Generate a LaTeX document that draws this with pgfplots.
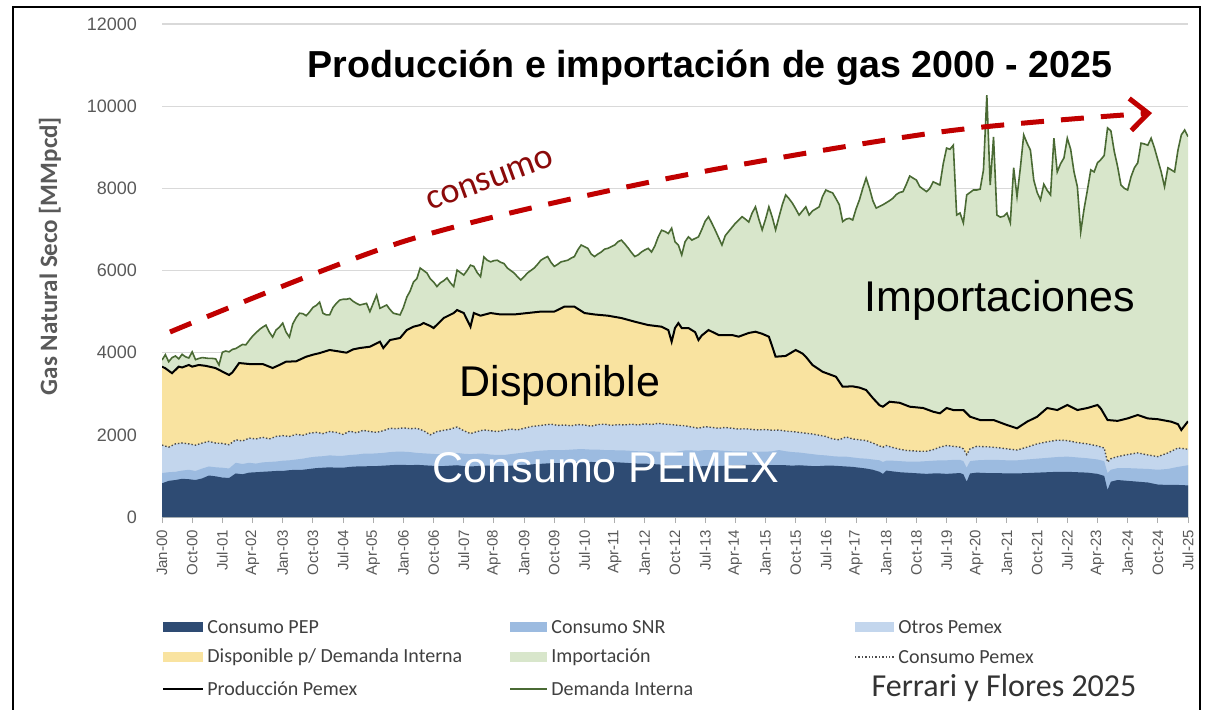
\documentclass[border=0pt]{standalone}
\usepackage{fontspec}
\setmainfont{Liberation Sans}
\newfontfamily\calfont{Carlito}
\usepackage{pgfplots}
\usepackage{pgfplotstable}
\pgfplotsset{compat=1.18}
\usetikzlibrary{arrows.meta}

\definecolor{cPEP}{HTML}{2E4B73}
\definecolor{cSNR}{HTML}{9CBBE0}
\definecolor{cOtr}{HTML}{C3D6ED}
\definecolor{cDisp}{HTML}{F9E3A0}
\definecolor{cImp}{HTML}{D8E6CB}
\definecolor{cDem}{HTML}{4A6A34}
\definecolor{cRed}{HTML}{C00000}
\definecolor{cTxtRed}{HTML}{8B0A0A}
\definecolor{tickgray}{HTML}{595959}
\definecolor{gridgray}{HTML}{D9D9D9}
\definecolor{leggray}{HTML}{404040}

% month index: 0 = Jan-00 ... 306 = Jul-25
\pgfplotstableread[row sep=\\]{
m d\\ 0 3820\\ 1 3950\\ 2 3780\\ 3 3880\\ 4 3920\\ 5 3850\\ 6 3960\\ 7 3900\\ 8 3870\\ 9 4020\\
10 3830\\ 11 3860\\ 12 3880\\ 13 3870\\ 14 3860\\ 15 3860\\ 16 3850\\ 17 3700\\ 18 4010\\ 19 4040\\
20 4020\\ 21 4080\\ 22 4100\\ 23 4150\\ 24 4200\\ 25 4190\\ 26 4300\\ 27 4400\\ 28 4480\\ 29 4560\\
30 4620\\ 31 4670\\ 32 4500\\ 33 4380\\ 34 4550\\ 35 4620\\ 36 4720\\ 37 4500\\ 38 4380\\ 39 4700\\
40 4850\\ 41 4960\\ 42 4950\\ 43 4900\\ 44 4990\\ 45 5100\\ 46 5150\\ 47 5230\\ 48 4960\\ 49 4920\\
50 4920\\ 51 5100\\ 52 5200\\ 53 5280\\ 54 5300\\ 55 5300\\ 56 5320\\ 57 5250\\ 58 5200\\ 59 5160\\
60 5180\\ 61 5200\\ 62 5000\\ 63 5200\\ 64 5400\\ 65 5080\\ 66 5120\\ 67 5160\\ 68 5050\\ 69 4960\\
70 4940\\ 71 4920\\ 72 5100\\ 73 5350\\ 74 5500\\ 75 5720\\ 76 5800\\ 77 6060\\ 78 6000\\ 79 5940\\
80 5800\\ 81 5720\\ 82 5610\\ 83 5700\\ 84 5750\\ 85 5820\\ 86 5700\\ 87 5610\\ 88 6010\\ 89 5950\\
90 5890\\ 91 6000\\ 92 6130\\ 93 6100\\ 94 5950\\ 95 5850\\ 96 6330\\ 97 6250\\ 98 6210\\ 99 6240\\
100 6250\\ 101 6200\\ 102 6170\\ 103 6060\\ 104 6000\\ 105 5940\\ 106 5850\\ 107 5770\\ 108 5850\\ 109 5940\\
110 6000\\ 111 6060\\ 112 6150\\ 113 6250\\ 114 6300\\ 115 6340\\ 116 6200\\ 117 6100\\ 118 6150\\ 119 6210\\
120 6230\\ 121 6250\\ 122 6300\\ 123 6340\\ 124 6500\\ 125 6620\\ 126 6580\\ 127 6540\\ 128 6400\\ 129 6340\\
130 6400\\ 131 6450\\ 132 6520\\ 133 6540\\ 134 6580\\ 135 6620\\ 136 6700\\ 137 6740\\ 138 6650\\ 139 6550\\
140 6440\\ 141 6340\\ 142 6380\\ 143 6450\\ 144 6500\\ 145 6540\\ 146 6450\\ 147 6600\\ 148 6820\\ 149 6980\\
150 6950\\ 151 6900\\ 152 7030\\ 153 6700\\ 154 6620\\ 155 6380\\ 156 6700\\ 157 6820\\ 158 6740\\ 159 6780\\
160 6820\\ 161 7000\\ 162 7200\\ 163 7310\\ 164 7150\\ 165 6980\\ 166 6800\\ 167 6620\\ 168 6850\\ 169 6950\\
170 7050\\ 171 7150\\ 172 7230\\ 173 7310\\ 174 7250\\ 175 7180\\ 176 7400\\ 177 7550\\ 178 7250\\ 179 6990\\
180 7250\\ 181 7550\\ 182 7300\\ 183 6990\\ 184 7300\\ 185 7600\\ 186 7840\\ 187 7750\\ 188 7640\\ 189 7500\\
190 7350\\ 191 7450\\ 192 7550\\ 193 7350\\ 194 7450\\ 195 7500\\ 196 7550\\ 197 7800\\ 198 7960\\ 199 7920\\
200 7890\\ 201 7750\\ 202 7600\\ 203 7190\\ 204 7250\\ 205 7270\\ 206 7230\\ 207 7500\\ 208 7720\\ 209 8000\\
210 8250\\ 211 8000\\ 212 7700\\ 213 7520\\ 214 7560\\ 215 7600\\ 216 7650\\ 217 7700\\ 218 7760\\ 219 7850\\
220 7900\\ 221 7920\\ 222 8100\\ 223 8300\\ 224 8250\\ 225 8200\\ 226 8040\\ 227 7980\\ 228 7920\\ 229 8000\\
230 8160\\ 231 8120\\ 232 8080\\ 233 8600\\ 234 8980\\ 235 8950\\ 236 9050\\ 237 7350\\ 238 7400\\ 239 7160\\
240 7840\\ 241 7900\\ 242 7960\\ 243 7960\\ 244 7980\\ 245 8450\\ 246 10270\\ 247 8080\\ 248 9250\\ 249 7350\\
250 7300\\ 251 7320\\ 252 7400\\ 253 7160\\ 254 8500\\ 255 7800\\ 256 8500\\ 257 9300\\ 258 9100\\ 259 8930\\
260 8200\\ 261 7900\\ 262 7720\\ 263 8100\\ 264 7950\\ 265 7840\\ 266 9220\\ 267 8400\\ 268 8600\\ 269 8740\\
270 9220\\ 271 8950\\ 272 8400\\ 273 8040\\ 274 6940\\ 275 7500\\ 276 7960\\ 277 8450\\ 278 8400\\ 279 8620\\
280 8700\\ 281 8800\\ 282 9470\\ 283 9400\\ 284 8900\\ 285 8530\\ 286 8080\\ 287 8000\\ 288 7960\\ 289 8280\\
290 8500\\ 291 8620\\ 292 9100\\ 293 9080\\ 294 9050\\ 295 9220\\ 296 8980\\ 297 8690\\ 298 8400\\ 299 8040\\
300 8500\\ 301 8450\\ 302 8400\\ 303 8930\\ 304 9300\\ 305 9420\\ 306 9260\\
}\tabDem

\pgfplotstableread[row sep=\\]{
m p\\ 0 3660\\ 1 3620\\ 3 3500\\ 5 3660\\ 6 3640\\ 8 3700\\ 9 3660\\ 11 3700\\ 13 3680\\ 16 3625\\
18 3540\\ 20 3456\\ 21 3520\\ 23 3748\\ 26 3724\\ 30 3724\\ 33 3627\\ 35 3700\\ 37 3780\\ 40 3790\\
43 3902\\ 45 3950\\ 47 3990\\ 50 4065\\ 52 4040\\ 55 4000\\ 57 4080\\ 59 4113\\ 62 4145\\ 65 4267\\
66 4113\\ 68 4308\\ 71 4357\\ 73 4551\\ 75 4632\\ 77 4673\\ 78 4722\\ 80 4650\\ 81 4600\\ 83 4760\\
84 4843\\ 87 4965\\ 88 5038\\ 90 4965\\ 91 4800\\ 92 4632\\ 93 4965\\ 95 4900\\ 98 4965\\ 101 4930\\
105 4930\\ 109 4965\\ 113 5000\\ 117 5000\\ 120 5120\\ 123 5120\\ 126 4965\\ 129 4930\\ 133 4900\\ 137 4843\\
141 4754\\ 145 4673\\ 149 4632\\ 151 4551\\ 152 4267\\ 153 4600\\ 154 4720\\ 155 4600\\ 157 4600\\ 159 4500\\
160 4308\\ 161 4420\\ 163 4551\\ 166 4430\\ 170 4430\\ 172 4390\\ 175 4480\\ 177 4510\\ 179 4460\\ 181 4389\\
182 4150\\ 183 3902\\ 186 3920\\ 189 4065\\ 191 3980\\ 192 3902\\ 194 3700\\ 197 3536\\ 201 3415\\ 203 3172\\
206 3180\\ 208 3150\\ 210 3091\\ 212 2896\\ 214 2720\\ 215 2685\\ 217 2806\\ 220 2780\\ 223 2685\\ 227 2653\\
230 2563\\ 232 2524\\ 234 2653\\ 236 2604\\ 239 2604\\ 241 2441\\ 244 2361\\ 248 2361\\ 252 2239\\ 255 2159\\
258 2320\\ 261 2441\\ 264 2653\\ 267 2604\\ 270 2726\\ 273 2604\\ 276 2653\\ 279 2726\\ 280 2640\\ 281 2500\\
282 2361\\ 285 2340\\ 288 2400\\ 291 2483\\ 294 2400\\ 297 2380\\ 301 2320\\ 303 2260\\ 304 2118\\ 306 2330\\
}\tabProd

% cumulative tops: e = Consumo PEP, s = + Consumo SNR, o = + Otros Pemex (= Consumo Pemex)
\pgfplotstableread[row sep=\\]{
m e s o\\
0 820 1070 1750\\ 2 880 1090 1700\\ 4 900 1100 1780\\ 6 930 1130 1800\\ 8 920 1150 1780\\
10 900 1120 1750\\ 12 940 1180 1800\\ 14 1010 1230 1840\\ 16 990 1210 1800\\ 18 960 1200 1790\\
20 950 1180 1760\\ 22 1060 1320 1880\\ 24 1040 1290 1850\\ 26 1080 1320 1920\\ 28 1090 1300 1900\\
30 1100 1330 1940\\ 32 1110 1340 1900\\ 34 1120 1350 1960\\ 36 1120 1370 1980\\ 38 1140 1380 1960\\
40 1150 1400 2010\\ 42 1150 1420 1990\\ 44 1170 1450 2040\\ 46 1190 1470 2060\\ 48 1200 1480 2030\\
50 1210 1500 2080\\ 52 1200 1490 2060\\ 54 1200 1490 2010\\ 56 1220 1510 2090\\ 58 1230 1520 2050\\
60 1230 1540 2110\\ 62 1240 1540 2080\\ 64 1240 1550 2060\\ 66 1250 1560 2100\\ 68 1260 1580 2160\\
70 1270 1590 2150\\ 72 1270 1590 2170\\ 74 1260 1580 2150\\ 76 1270 1560 2160\\ 78 1260 1550 2100\\
80 1250 1540 2000\\ 82 1240 1530 2080\\ 84 1240 1530 2110\\ 86 1250 1540 2140\\ 88 1260 1560 2190\\
90 1240 1540 2100\\ 92 1230 1530 2030\\ 94 1240 1540 2080\\ 96 1250 1540 2120\\ 98 1250 1520 2100\\
100 1240 1510 2080\\ 102 1240 1510 2110\\ 104 1250 1530 2140\\ 106 1260 1550 2120\\ 108 1270 1570 2160\\
110 1280 1590 2200\\ 112 1290 1610 2220\\ 114 1300 1620 2240\\ 116 1310 1630 2260\\ 118 1310 1630 2230\\
120 1310 1630 2240\\ 122 1320 1640 2220\\ 124 1330 1650 2250\\ 126 1330 1650 2240\\ 128 1340 1640 2210\\
130 1330 1640 2250\\ 132 1340 1630 2260\\ 134 1340 1630 2230\\ 136 1330 1620 2250\\ 138 1320 1620 2240\\
140 1310 1610 2260\\ 142 1300 1600 2240\\ 144 1300 1600 2270\\ 146 1290 1600 2250\\ 148 1280 1590 2280\\
150 1270 1580 2260\\ 152 1250 1570 2250\\ 154 1240 1600 2230\\ 156 1240 1620 2220\\ 158 1240 1620 2190\\
160 1230 1610 2160\\ 162 1240 1630 2200\\ 164 1250 1630 2180\\ 166 1240 1620 2160\\ 168 1250 1610 2180\\
170 1260 1600 2160\\ 172 1260 1600 2140\\ 174 1270 1600 2150\\ 176 1270 1590 2130\\ 178 1260 1590 2120\\
180 1260 1590 2130\\ 182 1260 1600 2110\\ 184 1265 1630 2118\\ 186 1260 1600 2090\\ 188 1250 1580 2080\\
190 1260 1570 2060\\ 192 1250 1550 2040\\ 194 1240 1530 2020\\ 196 1240 1510 1990\\ 198 1250 1500 1960\\
200 1250 1480 1900\\ 202 1240 1470 1880\\ 204 1230 1470 1950\\ 206 1220 1450 1900\\ 208 1200 1430 1880\\
210 1180 1420 1860\\ 212 1150 1400 1800\\ 214 1100 1380 1730\\ 215 1050 1340 1700\\ 216 1130 1370 1740\\
218 1110 1370 1690\\ 220 1090 1360 1650\\ 222 1080 1350 1620\\ 224 1070 1350 1610\\ 226 1060 1350 1600\\
228 1050 1360 1600\\ 230 1060 1370 1640\\ 232 1060 1380 1700\\ 234 1050 1380 1740\\ 236 1060 1390 1720\\
238 1070 1390 1700\\ 239 1040 1360 1660\\ 240 860 1200 1520\\ 241 1060 1360 1660\\ 243 1080 1380 1720\\
246 1070 1390 1710\\ 249 1070 1390 1690\\ 252 1060 1380 1660\\ 255 1060 1380 1630\\ 258 1070 1400 1700\\
261 1080 1420 1780\\ 264 1090 1440 1830\\ 267 1100 1460 1870\\ 270 1100 1470 1860\\ 273 1090 1450 1810\\
276 1080 1430 1780\\ 279 1050 1400 1730\\ 281 1000 1360 1680\\ 282 660 1070 1340\\ 283 860 1150 1420\\
285 900 1190 1470\\ 288 880 1190 1520\\ 291 860 1180 1560\\ 294 840 1170 1510\\ 297 790 1150 1470\\
300 780 1170 1560\\ 303 780 1220 1680\\ 306 770 1260 1650\\
}\tabPem

\begin{document}
\begin{tikzpicture}
\begin{axis}[
  at={(81pt,96pt)}, anchor=south west,
  scale only axis, width=513pt, height=246.5pt,
  xmin=0, xmax=306, ymin=0, ymax=12000,
  xtick={0,9,...,306},
  xticklabels={Jan-00,Oct-00,Jul-01,Apr-02,Jan-03,Oct-03,Jul-04,Apr-05,Jan-06,Oct-06,Jul-07,Apr-08,Jan-09,Oct-09,Jul-10,Apr-11,Jan-12,Oct-12,Jul-13,Apr-14,Jan-15,Oct-15,Jul-16,Apr-17,Jan-18,Oct-18,Jul-19,Apr-20,Jan-21,Oct-21,Jul-22,Apr-23,Jan-24,Oct-24,Jul-25},
  x tick label style={rotate=90, anchor=east, font=\fontsize{7.5}{8}\selectfont, text=tickgray},
  ytick={0,2000,...,12000},
  y tick label style={font=\fontsize{9}{10}\selectfont, text=tickgray, xshift=-6pt},
  /pgf/number format/1000 sep={},
  /pgf/number format/assume math mode=true,
  scaled y ticks=false,
  ymajorgrids, grid style={gridgray, line width=0.6pt},
  axis x line*=bottom, axis y line*=left,
  y axis line style={draw=none},
  x axis line style={draw=gridgray!80!black, line width=0.6pt},
  ytick style={draw=none},
  xtick style={draw=gridgray!80!black, line width=0.5pt},
  tick align=outside, major tick length=3pt,
]
\addplot[fill=cImp, draw=none] table[x=m,y=d]{\tabDem} \closedcycle;
\addplot[fill=cDisp, draw=none] table[x=m,y=p]{\tabProd} \closedcycle;
\addplot[fill=cOtr, draw=none] table[x=m,y=o]{\tabPem} \closedcycle;
\addplot[fill=cSNR, draw=none] table[x=m,y=s]{\tabPem} \closedcycle;
\addplot[fill=cPEP, draw=none] table[x=m,y=e]{\tabPem} \closedcycle;
\addplot[densely dotted, color=black!70, line width=0.7pt] table[x=m,y=o]{\tabPem};
\addplot[black, line width=1pt] table[x=m,y=p]{\tabProd};
\addplot[cDem, line width=0.8pt] table[x=m,y=d]{\tabDem};
\end{axis}

% pixel coordinates of the 1208x709 picture (y downward)
\begin{scope}[x=0.5pt, y=-0.5pt, shift={(0pt,354.5pt)}]
\path[use as bounding box] (0,0) rectangle (1208,709);
\draw[line width=1.2pt] (13,712) -- (13,7) -- (1200,7) -- (1200,712);

\node[rotate=90, text=tickgray, font=\calfont\bfseries\fontsize{12.5}{13}\selectfont] at (50,256) {Gas Natural Seco [MMpcd]};

\node[font=\bfseries\fontsize{18.8}{20}\selectfont] at (710,68) {Producción e importación de gas 2000 - 2025};

\draw[cRed, line width=2.5pt, dash pattern=on 11.5pt off 8.5pt,
      -{Straight Barb[length=9pt,width=16pt]}]
  plot[smooth] coordinates {(170,332) (405,241) (660,180) (940,132) (1152,113)};
\node[rotate=20, text=cTxtRed, font=\calfont\fontsize{18}{20}\selectfont, inner sep=0pt] at (490,180) {consumo};

\node[font=\fontsize{21.5}{24}\selectfont] at (1000,300) {Importaciones};
\node[font=\fontsize{21.5}{24}\selectfont] at (560,385) {Disponible};
\node[text=white, font=\fontsize{21.5}{24}\selectfont] at (606,468) {Consumo PEMEX};

% legend
\begin{scope}[every node/.style={anchor=west, text=leggray, font=\calfont\fontsize{10}{11}\selectfont, inner sep=1pt}]
\fill[cPEP] (163,622) rectangle (203,632); \node at (205,627) {Consumo PEP};
\fill[cSNR] (510,622) rectangle (547,632); \node at (549,627) {Consumo SNR};
\fill[cOtr] (855,622) rectangle (894,632); \node at (896,627) {Otros Pemex};
\fill[cDisp] (163,652) rectangle (203,662); \node at (205,657) {Disponible p/ Demanda Interna};
\fill[cImp] (510,652) rectangle (547,662); \node at (549,657) {Importación};
\draw[densely dotted, black!70, line width=0.7pt] (855,657) -- (894,657); \node at (896,657) {Consumo Pemex};
\draw[black, line width=0.8pt] (163,689) -- (203,689); \node at (205,689) {Producción Pemex};
\draw[cDem, line width=0.8pt] (510,689) -- (547,689); \node at (549,689) {Demanda Interna};
\end{scope}
\node[text=black!80, font=\calfont\fontsize{16}{18}\selectfont] at (1004,688) {Ferrari y Flores 2025};
\end{scope}
\end{tikzpicture}
\end{document}
